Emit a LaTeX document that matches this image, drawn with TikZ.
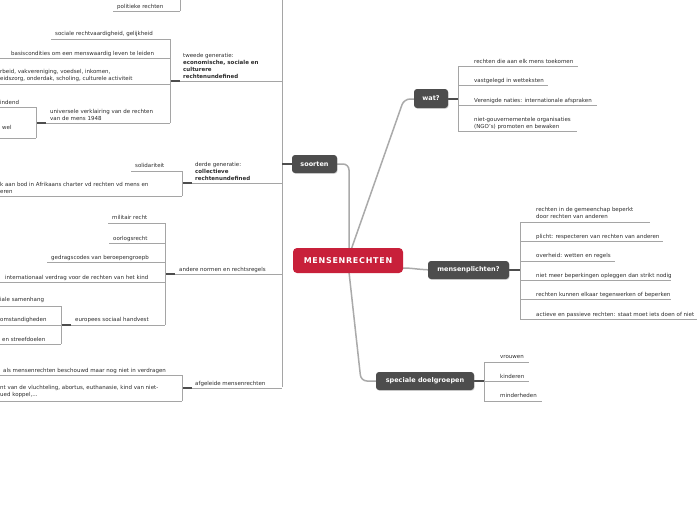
\documentclass[tikz,border=0pt]{standalone}
\usepackage{fontspec}
\setmainfont{DejaVu Sans}
\usetikzlibrary{shadows,calc}
\definecolor{nodedark}{RGB}{77,77,77}
\definecolor{mmred}{RGB}{200,32,58}
\definecolor{txt}{RGB}{45,45,45}
\definecolor{treegray}{RGB}{165,165,165}
\definecolor{conngray}{RGB}{170,170,170}
\tikzset{
  leaf/.style={inner sep=0pt, anchor=base west, font=\fontsize{5.5}{7}\selectfont, text=txt, align=left},
  tline/.style={draw=treegray, line width=0.7pt},
  joint/.style={draw=nodedark, line width=1.1pt},
  topic/.style={fill=nodedark, text=white, rounded corners=3pt, inner sep=0pt,
    font=\fontsize{6.5}{8}\selectfont\bfseries,
    drop shadow={opacity=0.3, shadow xshift=0.6pt, shadow yshift=-0.8pt}},
  central/.style={fill=mmred, text=white, rounded corners=4pt, inner sep=0pt,
    minimum width=110pt, minimum height=25pt,
    font=\fontsize{8}{10}\selectfont\bfseries\addfontfeature{LetterSpace=9}},
  conn/.style={draw=conngray, line width=1.5pt, rounded corners=6pt},
}
\begin{document}
\begin{tikzpicture}[x=1pt,y=-1pt]
\useasboundingbox (0,0) rectangle (697,520);
\fill[white] (0,0) rectangle (697,520);
\clip (0,0) rectangle (697,520);

% connector end points on the central node
\coordinate (cN1) at (349,250);
\coordinate (cN2) at (351,250);
\coordinate (cS) at (349,272);
\coordinate (cE) at (402,268);

% ---------- main connectors ----------
\draw[conn] (314,164) -- (349,164) -- (cN1);
\draw[conn] (cN2) -- (404,99) -- (431,99);
\draw[conn] (cE) .. controls (416,268) and (416,270) .. (440,270);
\draw[conn] (cS) -- (361,381) -- (420,381);

% ---------- left tree: soorten ----------
\draw[tline] (282,-2) -- (282,387);
\draw[joint] (282,164) -- (292,164);

% eerste generatie (partly off-page)
\draw[tline] (180,-2) -- (180,11);
\node[leaf] (pol) at (117,8) {politieke rechten};
\draw[tline] (113,11) -- (180,11);

% tweede generatie
\node[leaf] (tw) at (183,78) {tweede generatie:\\\textbf{economische, sociale en}\\\textbf{culturere}\\\textbf{rechtenundefined}};
\draw[tline] (170,81) -- (282,81);
\draw[joint] (170,81) -- (180,81);
\draw[tline] (170,39) -- (170,123);
\node[leaf] (soc) at (55,35) {sociale rechtvaardigheid, gelijkheid};
\draw[tline] (51,39) -- (170,39);
\node[leaf] (bas) at (11,55) {basiscondities om een menswaardig leven te leiden};
\draw[tline] (0,58) -- (170,58);
\node[leaf] (arb) at (0,80.5) {rbeid, vakvereniging, voedsel, inkomen,\\eidszorg, onderdak, scholing, culturele activiteit};
\draw[tline] (0,84) -- (170,84);
\node[leaf] (uni) at (50,120) {universele verklairing van de rechten\\van de mens 1948};
\draw[tline] (36,123) -- (170,123);
\draw[joint] (36,123) -- (46,123);
\draw[tline] (36,107) -- (36,138);
\node[leaf] (ind) at (0,104) {indend};
\draw[tline] (0,107) -- (36,107);
\node[leaf] (wel) at (2,129.5) {wel};
\draw[tline] (0,138) -- (36,138);

% derde generatie
\node[leaf] (dr) at (195,180) {derde generatie:\\\textbf{collectieve}\\\textbf{rechtenundefined}};
\draw[tline] (182,183) -- (282,183);
\draw[joint] (182,183) -- (192,183);
\draw[tline] (182,171) -- (182,196);
\node[leaf] (sol) at (135,167.5) {solidariteit};
\draw[tline] (131,171) -- (182,171);
\node[leaf] (afr) at (0,193) {k aan bod in Afrikaans charter vd rechten vd mens en\\eren};
\draw[tline] (0,196) -- (182,196);

% andere normen
\node[leaf] (and) at (179,271) {andere normen en rechtsregels};
\draw[tline] (165,274) -- (282,274);
\draw[joint] (165,274) -- (175,274);
\draw[tline] (165,223) -- (165,325);
\node[leaf] (mil) at (112,219.5) {militair recht};
\draw[tline] (108,223) -- (165,223);
\node[leaf] (oor) at (113,240) {oorlogsrecht};
\draw[tline] (109,243) -- (165,243);
\node[leaf] (ged) at (51,259) {gedragscodes van beroepengroepb};
\draw[tline] (47,262) -- (165,262);
\node[leaf] (int) at (5,279) {internationaal verdrag voor de rechten van het kind};
\draw[tline] (0,282) -- (165,282);
\node[leaf] (eur) at (75,321.5) {europees sociaal handvest};
\draw[tline] (61,325) -- (165,325);
\draw[joint] (61,325) -- (71,325);
\draw[tline] (61,306) -- (61,344);
\node[leaf] (iale) at (0,301.5) {iale samenhang};
\draw[tline] (0,306) -- (61,306);
\node[leaf] (oms) at (0,321.5) {omstandigheden};
\draw[tline] (0,325) -- (61,325);
\node[leaf] (stre) at (2,341) {en streefdoelen};
\draw[tline] (0,344) -- (61,344);

% afgeleide mensenrechten
\node[leaf] (afg) at (195,385) {afgeleide mensenrechten};
\draw[tline] (182,388) -- (282,388);
\draw[joint] (182,388) -- (192,388);
\draw[tline] (182,375) -- (182,401);
\node[leaf] (als) at (3,372) {als mensenrechten beschouwd maar nog niet in verdragen};
\draw[tline] (0,375) -- (182,375);
\node[leaf] (vlu) at (0,396) {nt van de vluchteling, abortus, euthanasie, kind van niet-\\ued koppel,...};
\draw[tline] (0,401) -- (182,401);

% ---------- wat? ----------
\draw[joint] (448,99) -- (458,99);
\draw[tline] (458,66) -- (458,131);
\node[leaf] (w1) at (474,63) {rechten die aan elk mens toekomen};
\draw[tline] (458,66) -- (578,66);
\node[leaf] (w2) at (474,82) {vastgelegd in wetteksten};
\draw[tline] (458,85) -- (548,85);
\node[leaf] (w3) at (474,102) {Verenigde naties: internationale afspraken};
\draw[tline] (458,105) -- (597,105);
\node[leaf] (w4) at (474,128) {niet-gouvernementele organisaties\\(NGO's) promoten en bewaken};
\draw[tline] (458,131) -- (577,131);

% ---------- mensenplichten? ----------
\draw[joint] (509,270) -- (520,270);
\draw[tline] (520,222) -- (520,319);
\node[leaf] (p1) at (536,218.5) {rechten in de gemeenchap beperkt\\door rechten van anderen};
\draw[tline] (520,222) -- (650,222);
\node[leaf] (p2) at (536,238) {plicht: respecteren van rechten van anderen};
\draw[tline] (520,241) -- (663,241);
\node[leaf] (p3) at (536,257.5) {overheid: wetten en regels};
\draw[tline] (520,261) -- (615,261);
\node[leaf] (p4) at (536,277) {niet meer beperkingen opleggen dan strikt nodig};
\draw[tline] (520,280) -- (671,280);
\node[leaf] (p5) at (536,296) {rechten kunnen elkaar tegenwerken of beperken};
\draw[tline] (520,299) -- (671,299);
\node[leaf] (p6) at (536,316) {actieve en passieve rechten: staat moet iets doen of niet};
\draw[tline] (520,319) -- (697,319);

% ---------- speciale doelgroepen ----------
\draw[joint] (474,381) -- (484,381);
\draw[tline] (484,362) -- (484,401);
\node[leaf] (s1) at (500,358.5) {vrouwen};
\draw[tline] (484,362) -- (529,362);
\node[leaf] (s2) at (500,378) {kinderen};
\draw[tline] (484,381) -- (529,381);
\node[leaf] (s3) at (500,397.5) {minderheden};
\draw[tline] (484,401) -- (542,401);

% ---------- main nodes ----------
\node[central] (c) at (348,260.5) {MENSENRECHTEN};
\node[topic, minimum width=45pt, minimum height=18pt] (soorten) at (314.5,164) {soorten};
\node[topic, minimum width=34pt, minimum height=19pt] (wat) at (431,98.5) {wat?};
\node[topic, minimum width=81pt, minimum height=18pt] (mp) at (468.5,270) {mensenplichten?};
\node[topic, minimum width=98pt, minimum height=18pt] (sd) at (425,381) {speciale doelgroepen};
\end{tikzpicture}
\end{document}
